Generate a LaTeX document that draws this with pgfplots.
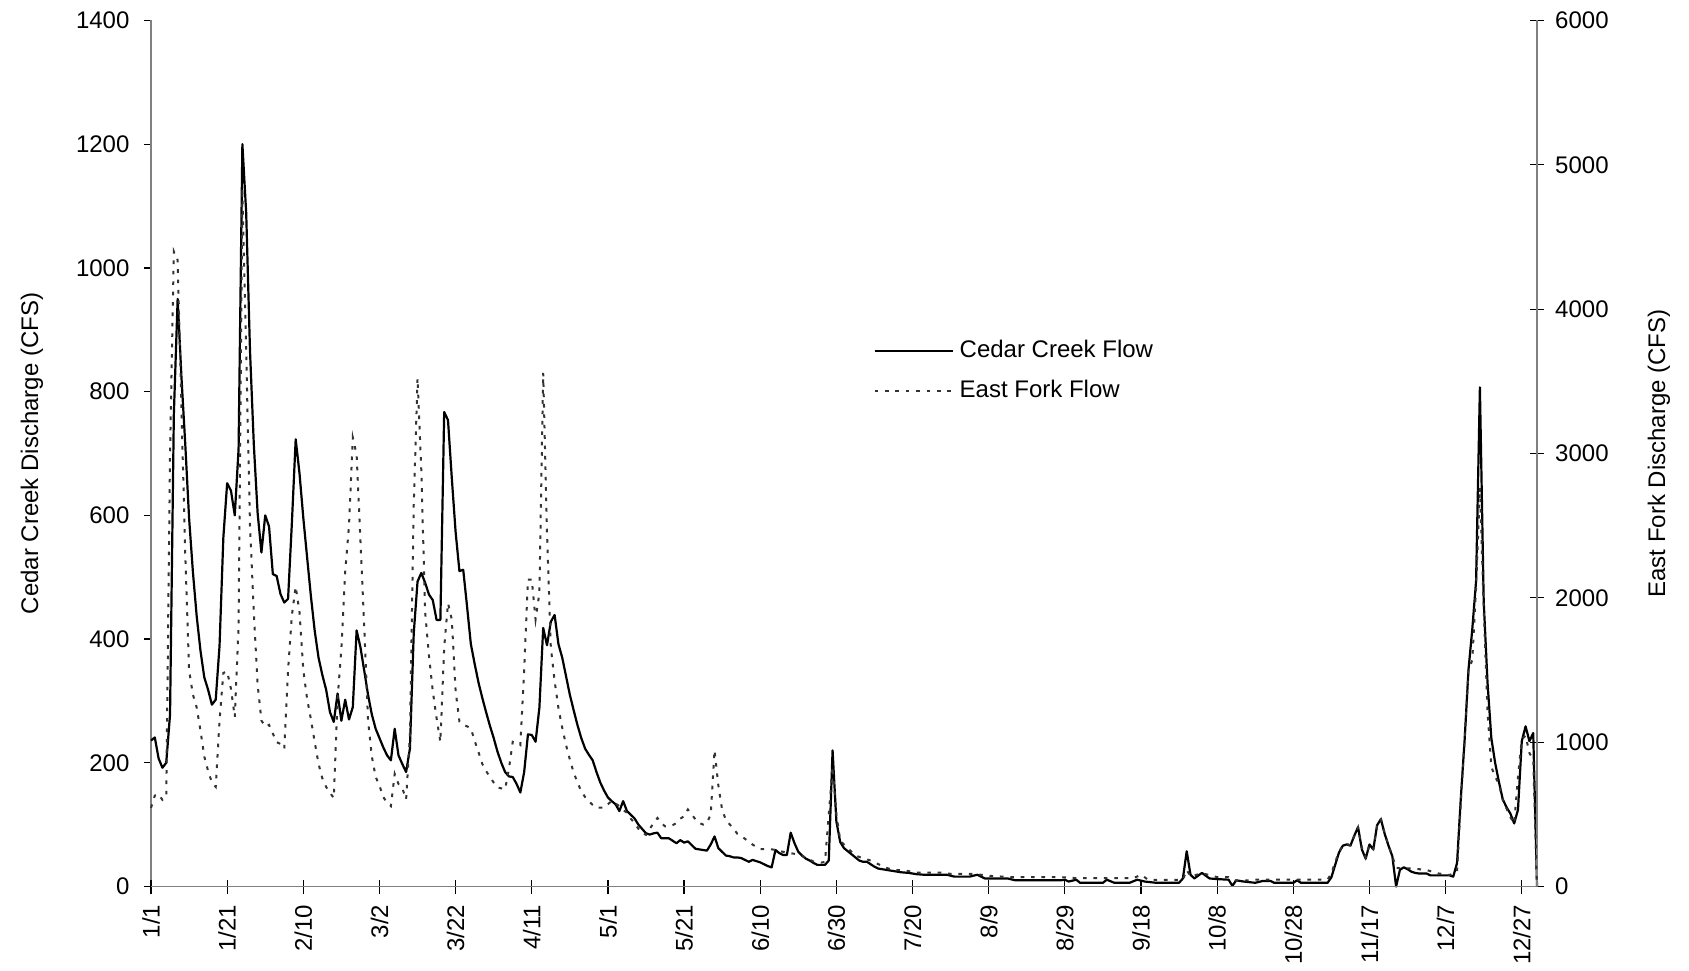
\documentclass[border=0pt]{standalone}
\usepackage{fontspec}
\setmainfont{Liberation Sans}
\usepackage{pgfplots}
\pgfplotsset{compat=1.18}
\usepackage{pgfplotstable}

% Cedar Creek daily discharge (CFS), day 0 = 1/1
\pgfplotstableread{
day cfs
0 236
1 241
2 207
3 192
4 200
5 278
6 763
7 950
8 823
9 715
10 596
11 509
12 437
13 381
14 338
15 318
16 294
17 302
18 389
19 564
20 652
21 640
22 600
23 707
24 1200
25 1089
26 866
27 715
28 604
29 540
30 600
31 582
32 505
33 502
34 473
35 459
36 465
37 588
38 723
39 668
40 596
41 532
42 469
43 413
44 370
45 342
46 318
47 282
48 266
49 312
50 268
51 302
52 270
53 290
54 414
55 387
56 349
57 310
58 278
59 255
60 240
61 225
62 212
63 204
64 255
65 212
66 198
67 185
68 223
69 409
70 493
71 507
72 491
73 472
74 463
75 431
76 431
77 767
78 754
79 660
80 573
81 510
82 512
83 453
84 392
85 360
86 330
87 305
88 282
89 260
90 240
91 218
92 200
93 185
94 178
95 177
96 166
97 152
98 185
99 246
100 245
101 234
102 289
103 418
104 390
105 428
106 439
107 392
108 370
109 340
110 310
111 285
112 261
113 240
114 223
115 213
116 204
117 185
118 168
119 155
120 144
121 138
122 133
123 122
124 138
125 122
126 116
127 110
128 100
129 93
130 86
131 84
132 86
133 87
134 78
135 78
136 78
137 74
138 70
139 75
140 71
141 73
142 67
143 61
144 60
145 59
146 58
147 68
148 81
149 62
150 56
151 50
152 49
153 47
154 47
155 46
156 43
157 40
158 43
159 41
160 39
161 36
162 33
163 31
164 59
165 54
166 51
167 51
168 87
169 70
170 56
171 50
172 45
173 42
174 38
175 35
176 35
177 35
178 42
179 220
180 105
181 72
182 62
183 57
184 52
185 47
186 42
187 40
188 40
189 36
190 32
191 29
192 28
193 27
194 26
195 25
196 24
197 23
199 22
201 20
203 19
209 19
211 16
215 16
217 19
219 13
225 13
227 10
239 10
240 11
241 8
243 11
244 6
250 6
251 11
253 6
257 6
259 11
261 8
264 6
270 6
271 13
272 57
273 19
274 13
276 22
278 13
280 12
283 11
284 1
285 10
287 8
290 6
292 9
294 9
295 6
300 6
301 10
302 6
309 6
310 15
311 35
312 55
313 66
314 68
315 66
316 82
317 96
318 60
319 45
320 68
321 60
322 99
323 109
324 85
325 66
326 49
327 0
328 27
329 31
330 28
331 24
332 22
333 21
335 21
336 18
341 18
342 16
343 38
344 144
345 238
346 350
347 416
348 494
349 807
350 461
351 330
352 240
353 200
354 169
355 141
356 128
357 118
358 102
359 124
360 235
361 259
362 235
363 248
364 0
}\cedar

% East Fork daily discharge (CFS), day 0 = 1/1
\pgfplotstableread{
day cfs
0 545
1 630
2 640
3 600
4 620
5 3000
6 4400
7 4340
8 3300
9 2300
10 1500
11 1330
12 1240
13 1080
14 900
15 800
16 720
17 690
18 1150
19 1480
20 1490
21 1370
22 1175
23 1800
24 4837
25 3700
26 2500
27 1900
28 1400
29 1150
30 1107
31 1120
32 1060
33 1000
34 988
35 954
36 1500
37 1880
38 2078
39 1900
40 1500
41 1300
42 1158
43 1000
44 850
45 750
46 690
47 650
48 613
49 1300
50 1650
51 2180
52 2500
53 3110
54 2993
55 2400
56 1800
57 1150
58 900
59 760
60 698
61 620
62 580
63 557
64 780
65 710
66 680
67 604
68 1049
69 2642
70 3520
71 2876
72 1900
73 1600
74 1354
75 1166
76 1002
77 1658
78 1963
79 1850
80 1354
81 1143
82 1120
83 1110
84 1096
85 1010
86 932
87 850
88 800
89 760
90 720
91 686
92 680
93 674
94 815
95 1002
96 990
97 979
98 1500
99 2127
100 2127
101 1850
102 2033
103 3560
104 2454
105 1658
106 1424
107 1237
108 1100
109 980
110 880
111 790
112 721
113 660
114 620
115 590
116 565
117 546
118 546
119 546
120 570
121 593
122 575
123 557
124 530
125 511
126 470
127 440
128 400
129 370
130 358
131 400
132 440
133 475
134 440
135 417
136 417
137 425
138 440
139 470
140 487
141 534
142 500
143 464
144 440
145 429
146 440
147 500
148 944
149 700
150 530
151 460
152 430
153 400
154 365
155 350
156 330
157 312
158 290
159 275
160 259
162 259
164 255
166 240
168 231
170 222
172 200
174 173
176 166
177 170
178 500
179 831
180 500
181 320
182 290
183 266
185 215
187 195
189 180
191 155
193 130
195 115
198 111
201 97
207 97
210 88
216 88
220 74
226 65
239 65
243 58
258 58
260 81
262 45
267 46
271 46
272 115
273 69
276 92
280 65
283 65
285 40
288 42
290 48
309 48
310 91
311 170
312 240
313 285
314 295
315 285
316 350
317 410
318 270
319 200
320 290
321 260
322 420
323 465
324 365
325 285
326 210
327 130
328 126
331 126
335 114
338 91
341 79
342 90
343 103
344 591
345 1021
346 1498
347 1569
348 2070
349 2762
350 1927
351 1212
352 830
353 760
354 711
355 600
356 540
357 480
358 436
359 758
360 1021
361 1045
362 925
363 878
364 0
}\eastfork

\pgfplotsset{
  base/.style={
    scale only axis, width=693pt, height=433pt,
    xmin=0, xmax=364,
    /pgf/number format/assume math mode=true,
    /pgf/number format/1000 sep={},
    scaled y ticks=false,
    axis line style={draw=black!50, line width=0.7pt},
    tick style={draw=black, line width=0.6pt},
    tick label style={font=\fontsize{12}{14.4}\selectfont, inner sep=0pt},
    label style={font=\fontsize{12}{14.4}\selectfont},
    clip=false,
  }
}

\begin{document}
\begin{tikzpicture}[font=\fontsize{12}{14.4}\selectfont]
\useasboundingbox (-75.5pt,-41.75pt) rectangle (769pt,443.25pt);
\begin{axis}[base,
  ymin=0, ymax=1400, ytick={0,200,...,1400},
  axis y line*=left, axis x line=none,
  ytick align=outside, major tick length=3.5pt,
  yticklabel shift=7.1pt,
  ylabel={Cedar Creek Discharge (CFS)},
  ylabel style={at={(axis description cs:-0.086,0.5)}, anchor=center},
]
\addplot[black, line width=1.1pt, line join=round] table[x=day, y=cfs]{\cedar};
\end{axis}
\begin{axis}[base,
  ymin=0, ymax=6000, ytick={0,1000,...,6000},
  axis y line*=right, axis x line*=bottom,
  tick align=center, major tick length=7pt,
  xtick={0,20,...,360},
  xticklabels={1/1,1/21,2/10,3/2,3/22,4/11,5/1,5/21,6/10,6/30,7/20,8/9,8/29,9/18,10/8,10/28,11/17,12/7,12/27},
  xticklabel style={rotate=90, anchor=east},
  xticklabel shift=5.5pt,
  yticklabel shift=5.4pt,
  ylabel={East Fork Discharge (CFS)},
  ylabel style={at={(axis description cs:1.088,0.5)}, anchor=center},
  legend cell align=left,
  legend image code/.code={\draw[#1] (0pt,0pt) -- (39pt,0pt);},
  legend style={at={(axis description cs:0.521,0.595)}, anchor=west,
    draw=none, fill=none, inner sep=0pt,
    font=\fontsize{12}{14.4}\selectfont,
    nodes={inner sep=0pt, text height=9pt, text depth=2.5pt},
    column sep=3pt, row sep=8.5pt},
]
\addlegendimage{black, line width=1.1pt}
\addlegendentry{Cedar Creek Flow}
\addplot[black!80, line width=1pt, dash pattern=on 1.8pt off 3.4pt] table[x=day, y=cfs]{\eastfork};
\addlegendentry{East Fork Flow}
\end{axis}
\end{tikzpicture}
\end{document}
